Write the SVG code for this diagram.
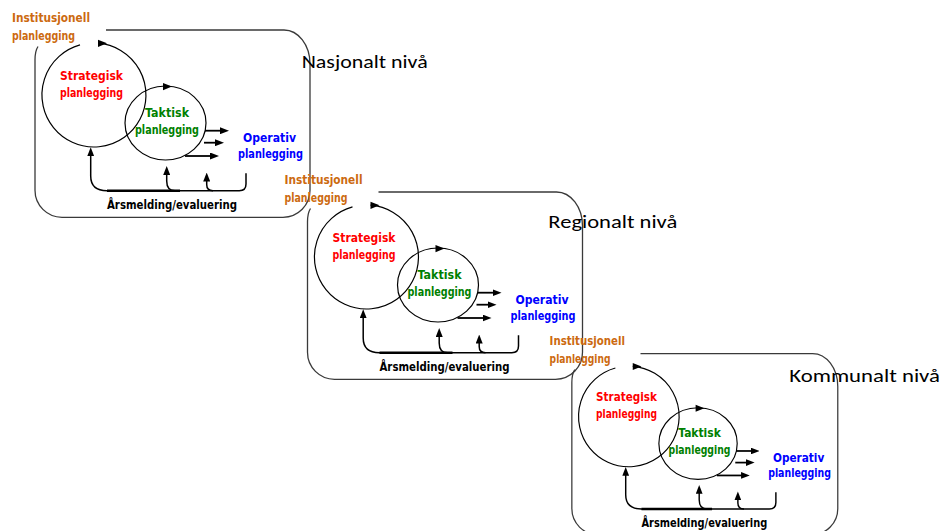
<svg xmlns="http://www.w3.org/2000/svg" xmlns:xlink="http://www.w3.org/1999/xlink" width="944" height="531" viewBox="0 0 944 531">
  <style>
    .frame{fill:none;stroke:#3a3a3a;stroke-width:1.3}
    .cycle{fill:none;stroke:#000;stroke-width:1.2}
    .out{fill:none;stroke:#000;stroke-width:1.8}
    .fb{fill:none;stroke:#000;stroke-width:1.5}
    .fbthick{fill:none;stroke:#000;stroke-width:2.6}
    .lbl{font-family:"Comic Sans MS","DejaVu Sans",sans-serif;font-weight:bold;font-size:12px}
    .inst{fill:#cc6a10}
    .strat{fill:#ff0000}
    .takt{fill:#008000}
    .oper{fill:#0000ff}
    .eval{fill:#000}
    .level{font-family:Calibri,Carlito,"Open Sans",sans-serif;font-size:19px;fill:#000}
  </style>
  <defs>
    <marker id="ah" viewBox="0 0 9 7" markerWidth="9" markerHeight="7" refX="2" refY="3.5" orient="auto" markerUnits="userSpaceOnUse">
      <path d="M0,0 L9,3.5 L0,7 Z" fill="#000"/>
    </marker>
    <!-- arrowhead riding on the planning cycles -->
    <path id="head" d="M0,-3.6 L9,0 L0,3.6 Z" fill="#000"/>
  </defs>

  <!-- ===== National level ===== -->
  <g id="nasjonalt">
    <path class="frame" d="M106 30 H284 A26 34 0 0 1 310 64 V190 A27 27 0 0 1 283 217.3 H62 A27 27 0 0 1 35 190.3 V60 Q35 51 38 46.5"/>
    <g id="nasj-institusjonell">
      <text class="lbl inst" x="12" y="21.5" textLength="78" lengthAdjust="spacingAndGlyphs">Institusjonell</text>
      <text class="lbl inst" x="12" y="39.5" textLength="63" lengthAdjust="spacingAndGlyphs">planlegging</text>
    </g>
    <g id="nasj-strategisk">
      <path class="cycle" d="M98 43.15 A52 52 0 1 1 80 44.9"/>
      <use xlink:href="#head" href="#head" x="98" y="43.3"/>
      <text class="lbl strat" x="60" y="79.5" textLength="63" lengthAdjust="spacingAndGlyphs">Strategisk</text>
      <text class="lbl strat" x="60" y="96.7" textLength="63" lengthAdjust="spacingAndGlyphs">planlegging</text>
    </g>
    <g id="nasj-taktisk">
      <ellipse class="cycle" cx="165.5" cy="123" rx="40.5" ry="37"/>
      <use xlink:href="#head" href="#head" x="163" y="86.6"/>
      <text class="lbl takt" x="145" y="116.7" textLength="44" lengthAdjust="spacingAndGlyphs">Taktisk</text>
      <text class="lbl takt" x="135" y="133.5" textLength="64" lengthAdjust="spacingAndGlyphs">planlegging</text>
    </g>
    <g id="nasj-operativ">
      <text class="lbl oper" x="243" y="142" textLength="53" lengthAdjust="spacingAndGlyphs">Operativ</text>
      <text class="lbl oper" x="238" y="158" textLength="65" lengthAdjust="spacingAndGlyphs">planlegging</text>
    </g>
    <g id="nasj-evaluering">
      <text class="lbl eval" x="107" y="209" textLength="130" lengthAdjust="spacingAndGlyphs">Årsmelding/evaluering</text>
    </g>
    <g id="nasj-connectors">
      <path class="out" d="M205 130.7 H222" marker-end="url(#ah)"/>
      <path class="out" d="M204 142.7 H217" marker-end="url(#ah)"/>
      <path class="out" d="M185 156 H212" marker-end="url(#ah)"/>
      <path class="fb" d="M246 173.3 V184 Q246 190.7 239.3 190.7 H107 C96 190.7 90.7 186 90.7 176 V154.3" marker-end="url(#ah)"/>
      <path class="fbthick" d="M107 190.7 H180"/>
      <path class="fb" d="M175 190.7 C169 190.7 166.7 187 166.7 181 V173" marker-end="url(#ah)"/>
      <path class="fb" d="M213 190.7 C208.5 190.7 206.7 188 206.7 184.5 V179.5" marker-end="url(#ah)"/>
    </g>
  </g>

  <!-- ===== Regional level ===== -->
  <g id="regionalt" transform="translate(272.5 162)">
    <path class="frame" d="M106 30 H284 A26 34 0 0 1 310 64 V190 A27 27 0 0 1 283 217.3 H62 A27 27 0 0 1 35 190.3 V60 Q35 51 38 46.5"/>
    <g id="reg-institusjonell">
      <text class="lbl inst" x="12" y="21.5" textLength="78" lengthAdjust="spacingAndGlyphs">Institusjonell</text>
      <text class="lbl inst" x="12" y="39.5" textLength="63" lengthAdjust="spacingAndGlyphs">planlegging</text>
    </g>
    <g id="reg-strategisk">
      <path class="cycle" d="M98 43.15 A52 52 0 1 1 80 44.9"/>
      <use xlink:href="#head" href="#head" x="98" y="43.3"/>
      <text class="lbl strat" x="60" y="79.5" textLength="63" lengthAdjust="spacingAndGlyphs">Strategisk</text>
      <text class="lbl strat" x="60" y="96.7" textLength="63" lengthAdjust="spacingAndGlyphs">planlegging</text>
    </g>
    <g id="reg-taktisk">
      <ellipse class="cycle" cx="165.5" cy="123" rx="40.5" ry="37"/>
      <use xlink:href="#head" href="#head" x="163" y="86.6"/>
      <text class="lbl takt" x="145" y="116.7" textLength="44" lengthAdjust="spacingAndGlyphs">Taktisk</text>
      <text class="lbl takt" x="135" y="133.5" textLength="64" lengthAdjust="spacingAndGlyphs">planlegging</text>
    </g>
    <g id="reg-operativ">
      <text class="lbl oper" x="243" y="142" textLength="53" lengthAdjust="spacingAndGlyphs">Operativ</text>
      <text class="lbl oper" x="238" y="158" textLength="65" lengthAdjust="spacingAndGlyphs">planlegging</text>
    </g>
    <g id="reg-evaluering">
      <text class="lbl eval" x="107" y="209" textLength="130" lengthAdjust="spacingAndGlyphs">Årsmelding/evaluering</text>
    </g>
    <g id="reg-connectors">
      <path class="out" d="M205 130.7 H222" marker-end="url(#ah)"/>
      <path class="out" d="M204 142.7 H217" marker-end="url(#ah)"/>
      <path class="out" d="M185 156 H212" marker-end="url(#ah)"/>
      <path class="fb" d="M246 173.3 V184 Q246 190.7 239.3 190.7 H107 C96 190.7 90.7 186 90.7 176 V154.3" marker-end="url(#ah)"/>
      <path class="fbthick" d="M107 190.7 H180"/>
      <path class="fb" d="M175 190.7 C169 190.7 166.7 187 166.7 181 V173" marker-end="url(#ah)"/>
      <path class="fb" d="M213 190.7 C208.5 190.7 206.7 188 206.7 184.5 V179.5" marker-end="url(#ah)"/>
    </g>
  </g>

  <!-- ===== Municipal level ===== -->
  <g id="kommunalt" transform="translate(538 324.6) scale(0.967)">
    <path class="frame" d="M106 30 H284 A26 34 0 0 1 310 64 V190 A27 27 0 0 1 283 217.3 H62 A27 27 0 0 1 35 190.3 V60 Q35 51 38 46.5"/>
    <g id="kom-institusjonell">
      <text class="lbl inst" x="12" y="21.5" textLength="78" lengthAdjust="spacingAndGlyphs">Institusjonell</text>
      <text class="lbl inst" x="12" y="39.5" textLength="63" lengthAdjust="spacingAndGlyphs">planlegging</text>
    </g>
    <g id="kom-strategisk">
      <path class="cycle" d="M98 43.15 A52 52 0 1 1 80 44.9"/>
      <use xlink:href="#head" href="#head" x="98" y="43.3"/>
      <text class="lbl strat" x="60" y="79.5" textLength="63" lengthAdjust="spacingAndGlyphs">Strategisk</text>
      <text class="lbl strat" x="60" y="96.7" textLength="63" lengthAdjust="spacingAndGlyphs">planlegging</text>
    </g>
    <g id="kom-taktisk">
      <ellipse class="cycle" cx="165.5" cy="123" rx="40.5" ry="37"/>
      <use xlink:href="#head" href="#head" x="163" y="86.6"/>
      <text class="lbl takt" x="145" y="116.7" textLength="44" lengthAdjust="spacingAndGlyphs">Taktisk</text>
      <text class="lbl takt" x="135" y="133.5" textLength="64" lengthAdjust="spacingAndGlyphs">planlegging</text>
    </g>
    <g id="kom-operativ">
      <text class="lbl oper" x="243" y="142" textLength="53" lengthAdjust="spacingAndGlyphs">Operativ</text>
      <text class="lbl oper" x="238" y="158" textLength="65" lengthAdjust="spacingAndGlyphs">planlegging</text>
    </g>
    <g id="kom-evaluering">
      <text class="lbl eval" x="107" y="209" textLength="130" lengthAdjust="spacingAndGlyphs">Årsmelding/evaluering</text>
    </g>
    <g id="kom-connectors">
      <path class="out" d="M205 130.7 H222" marker-end="url(#ah)"/>
      <path class="out" d="M204 142.7 H217" marker-end="url(#ah)"/>
      <path class="out" d="M185 156 H212" marker-end="url(#ah)"/>
      <path class="fb" d="M246 173.3 V184 Q246 190.7 239.3 190.7 H107 C96 190.7 90.7 186 90.7 176 V154.3" marker-end="url(#ah)"/>
      <path class="fbthick" d="M107 190.7 H180"/>
      <path class="fb" d="M175 190.7 C169 190.7 166.7 187 166.7 181 V173" marker-end="url(#ah)"/>
      <path class="fb" d="M213 190.7 C208.5 190.7 206.7 188 206.7 184.5 V179.5" marker-end="url(#ah)"/>
    </g>
  </g>

  <!-- level titles -->
  <g id="levels">
    <text class="level" x="301.7" y="68.3" textLength="126" lengthAdjust="spacingAndGlyphs">Nasjonalt nivå</text>
    <text class="level" x="548.3" y="228.3" textLength="129" lengthAdjust="spacingAndGlyphs">Regionalt nivå</text>
    <text class="level" x="789.3" y="382.3" textLength="150.7" lengthAdjust="spacingAndGlyphs">Kommunalt nivå</text>
  </g>
</svg>
